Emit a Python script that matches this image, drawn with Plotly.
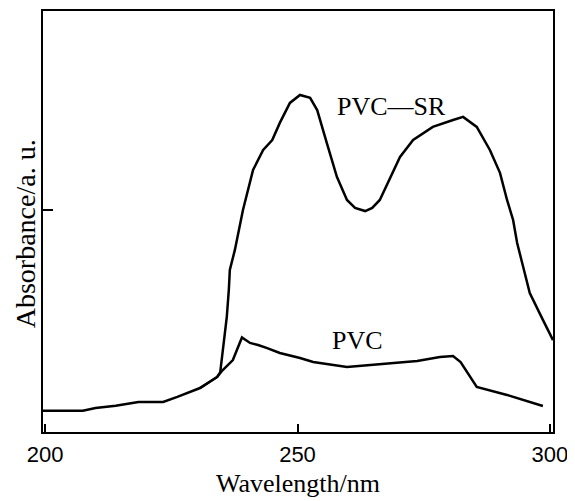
import plotly.graph_objects as go

# Wavelength (nm) and absorbance (a.u.)
pvc_wavelength = [199.6, 207.5, 210.0, 214.0, 218.5, 223.4, 226.2, 230.7, 234.1, 235.2,
                  237.2, 239.0, 240.6, 242.2, 244.0, 246.5, 250.5, 253.1, 259.8, 266.9,
                  273.7, 278.2, 280.8, 282.3, 285.5, 291.5, 298.6]
pvc_absorbance = [0.096, 0.096, 0.108, 0.118, 0.135, 0.135, 0.158, 0.198, 0.248, 0.279,
                  0.324, 0.426, 0.401, 0.392, 0.378, 0.356, 0.333, 0.315, 0.293, 0.306,
                  0.320, 0.338, 0.342, 0.315, 0.203, 0.167, 0.117]

sr_wavelength = [230.7, 234.1, 234.7, 235.2, 236.0, 236.4, 236.6, 237.6, 239.2, 241.2,
                 243.2, 245.0, 246.5, 248.5, 250.5, 252.5, 253.9, 255.8, 257.8, 259.8,
                 261.4, 263.4, 264.8, 266.3, 270.3, 272.9, 276.8, 280.8, 282.8, 285.5,
                 288.1, 290.1, 291.5, 292.7, 293.5, 294.7, 296.0, 298.6, 300.6]
sr_absorbance = [0.198, 0.248, 0.270, 0.369, 0.518, 0.640, 0.730, 0.820, 1.000, 1.180,
                 1.270, 1.315, 1.392, 1.482, 1.518, 1.505, 1.450, 1.302, 1.149, 1.045,
                 1.009, 0.995, 1.009, 1.045, 1.239, 1.315, 1.374, 1.405, 1.419, 1.374,
                 1.270, 1.167, 1.045, 0.955, 0.851, 0.743, 0.626, 0.505, 0.414]

x_ticks = [200, 250, 300]
x_tick_labels = ["200", "250", "300"]
y_ticks = [1.0]

label_names = ["PVC\u2014SR", "PVC"]
label_x = [268.7, 261.8]
label_y = [1.465, 0.414]

fig = go.Figure()
fig.add_trace(go.Scatter(x=pvc_wavelength, y=pvc_absorbance, mode="lines",
                         line=dict(color="black", width=2.5), name="PVC",
                         showlegend=False))
fig.add_trace(go.Scatter(x=sr_wavelength, y=sr_absorbance, mode="lines",
                         line=dict(color="black", width=2.5), name="PVC-SR",
                         showlegend=False))

for name, lx, ly in zip(label_names, label_x, label_y):
    fig.add_annotation(x=lx, y=ly, text=name, showarrow=False,
                       font=dict(family="Liberation Serif", size=26, color="black"))

# y-axis title, placed slightly below the axis middle as in the original
fig.add_annotation(xref="paper", yref="paper", x=-0.035, y=0.47,
                   text="Absorbance/a. u.", textangle=-90, showarrow=False,
                   xanchor="center", yanchor="middle",
                   font=dict(family="Liberation Serif", size=28, color="black"))

# the page body adds an 8px margin at left/top, so the figure is 8px smaller
fig.update_layout(
    width=567, height=493, autosize=False,
    margin=dict(l=35, r=22, t=3, b=69),
    paper_bgcolor="white", plot_bgcolor="white",
    showlegend=False,
)
fig.update_xaxes(
    automargin=False,
    range=[199.6, 300.6], tickvals=x_ticks, ticktext=x_tick_labels,
    ticks="inside", ticklen=8, tickwidth=2, tickcolor="black",
    ticklabelstandoff=2,
    showline=True, linecolor="black", linewidth=2, mirror=True,
    showgrid=False, zeroline=False,
    tickfont=dict(family="Liberation Sans", size=22, color="black"),
    title=dict(text="Wavelength/nm", standoff=7,
               font=dict(family="Liberation Serif", size=26, color="black")),
)
fig.update_yaxes(
    automargin=False,
    range=[0, 1.896], tickvals=y_ticks, showticklabels=False,
    ticks="inside", ticklen=10, tickwidth=2, tickcolor="black",
    showline=True, linecolor="black", linewidth=2, mirror=True,
    showgrid=False, zeroline=False,
)

fig.write_html("out.html")
